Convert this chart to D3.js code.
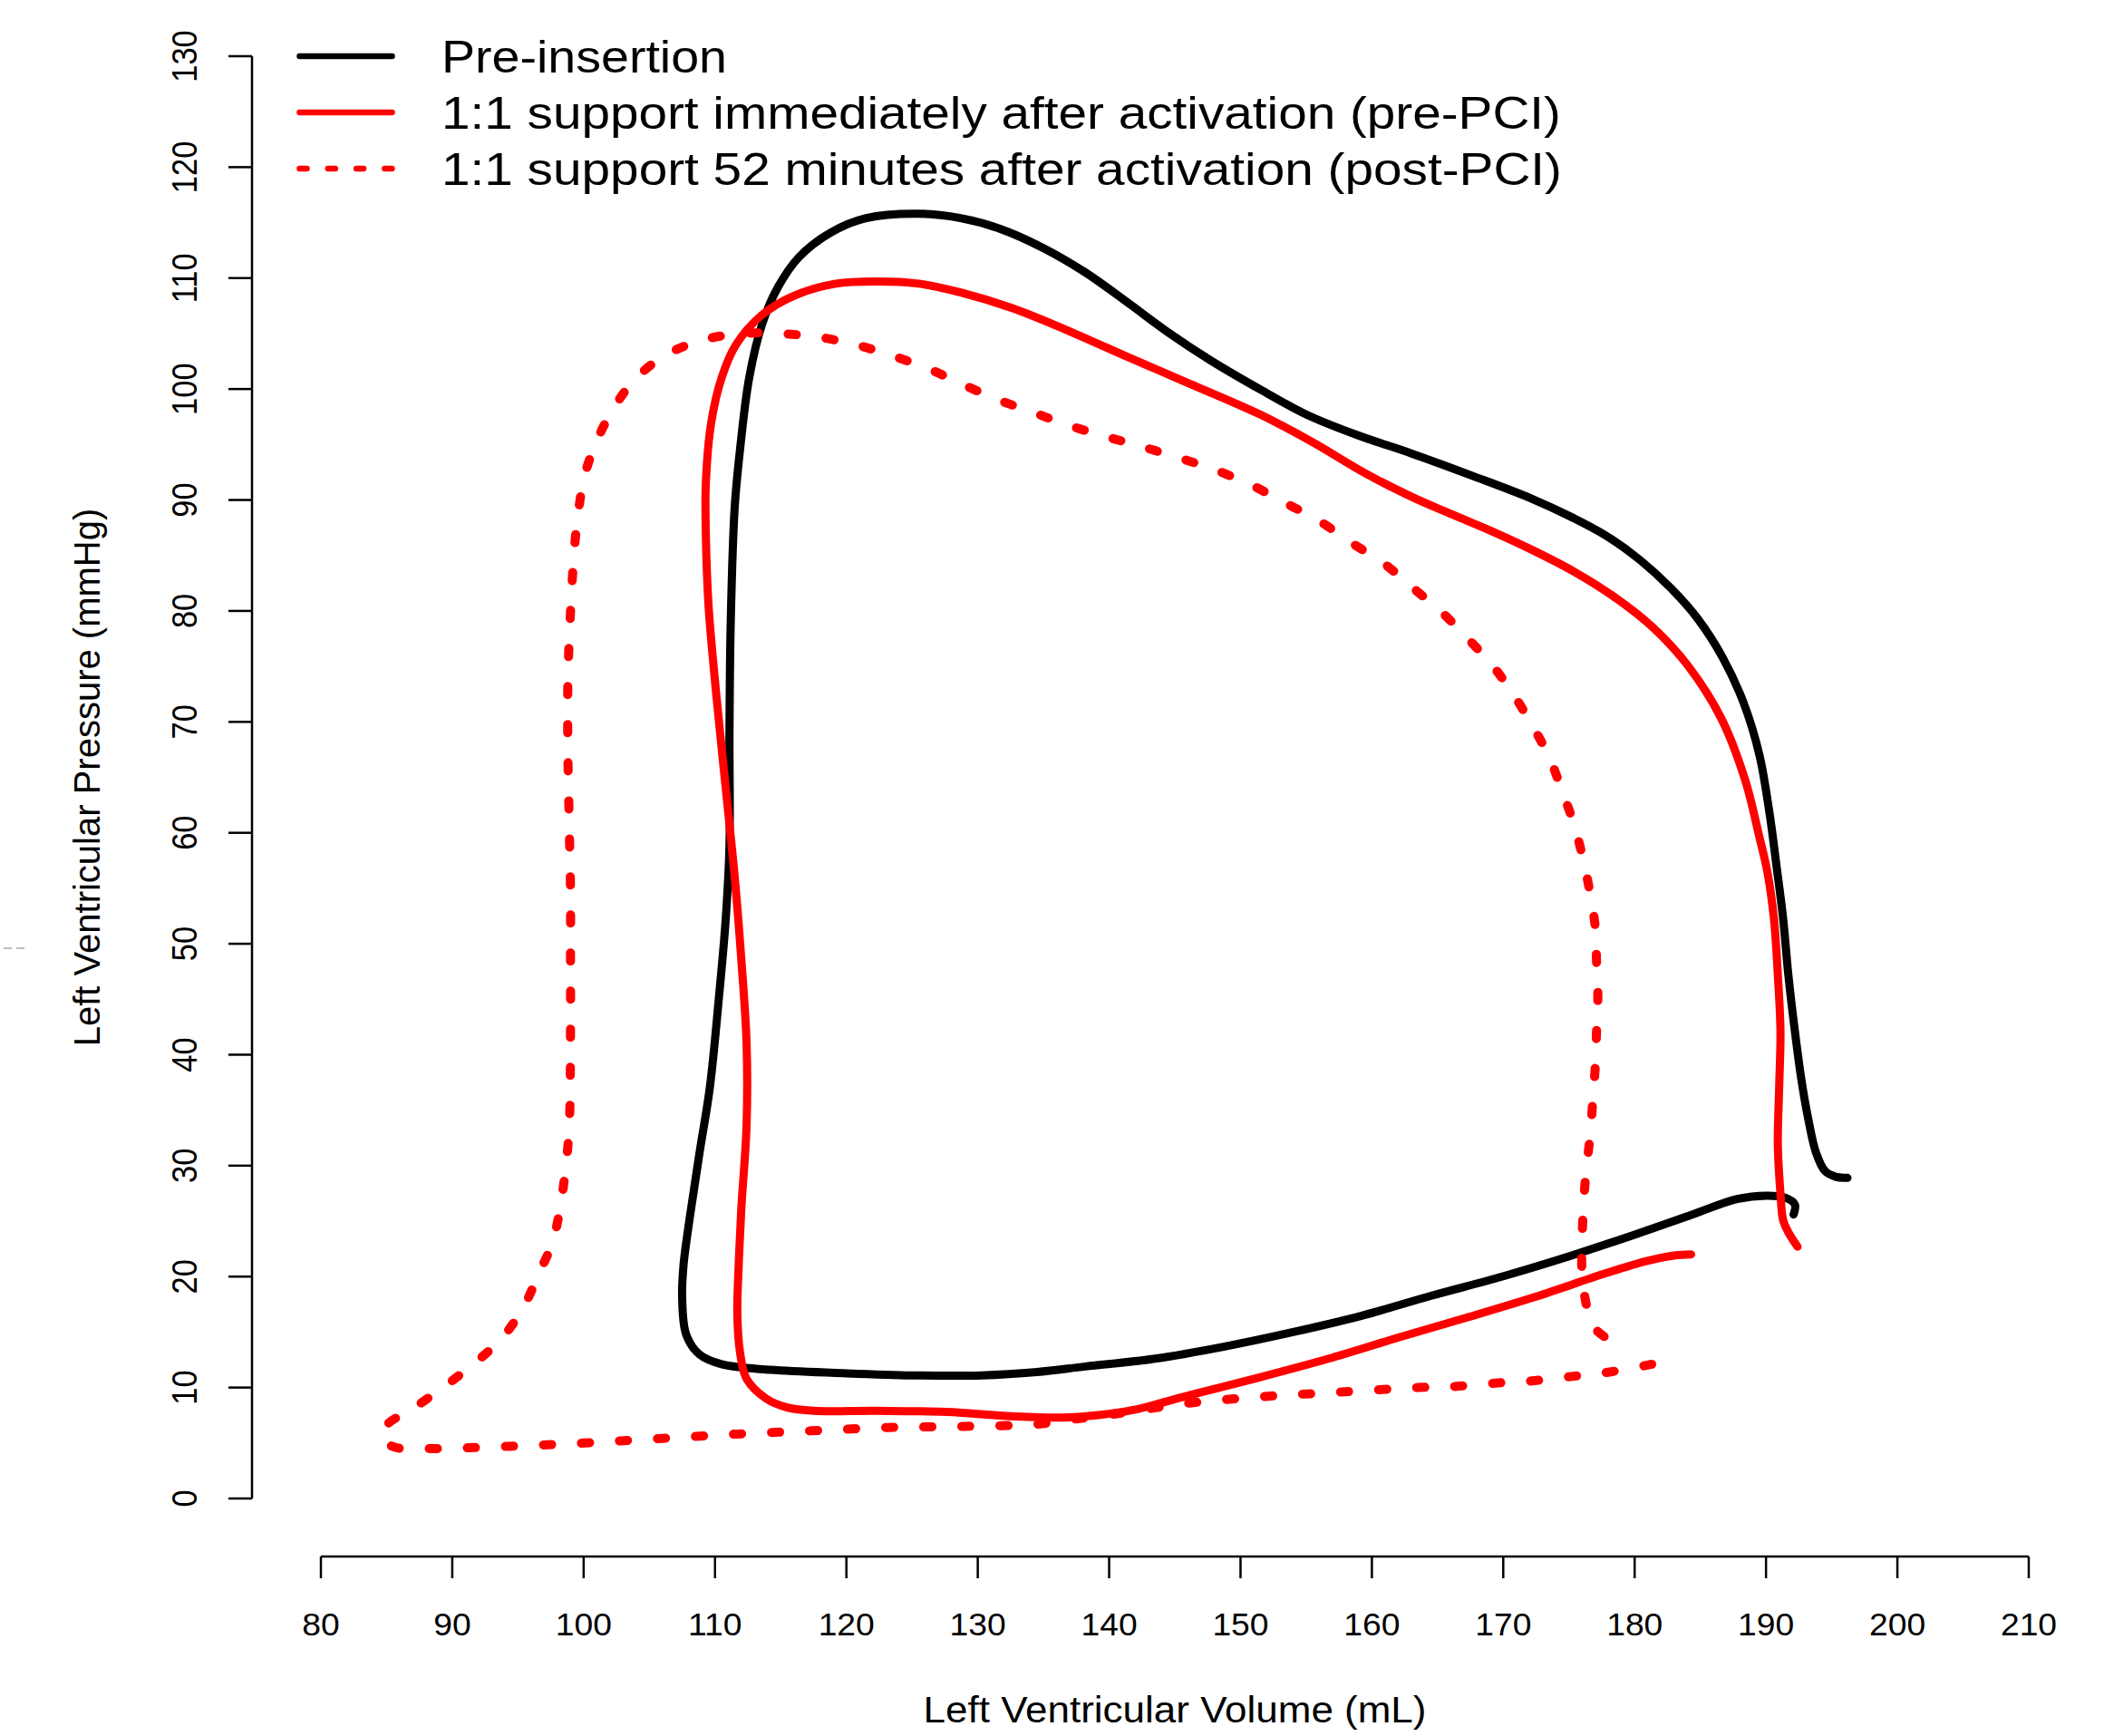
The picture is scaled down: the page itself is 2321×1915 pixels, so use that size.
<!DOCTYPE html>
<html>
<head>
<meta charset="utf-8">
<script src="https://cdn.jsdelivr.net/npm/d3@7"></script>
<style>
  body { margin: 0; background: #fff; }
  svg text { font-family: "Liberation Sans", Arial, sans-serif; fill: #000; }
</style>
</head>
<body>
<div id="pv_loop"></div>
<script>
// legend labels
var seriesNames = ["Pre-insertion",
  "1:1 support immediately after activation (pre-PCI)",
  "1:1 support 52 minutes after activation (post-PCI)"];

var xTicks = d3.range(80, 211, 10);
var yTicks = d3.range(0, 131, 10);

// Pre-insertion loop (volume mL, pressure mmHg)
var preVol = [196.2, 195.3, 194.5, 193.8, 193.2, 192.7, 192.2, 191.7, 191.3, 190.8, 190.3, 189.5, 188.3, 186.7, 184.8, 182.8, 180.4, 177.8, 175.3, 172.2, 167.6, 163.0, 159.0, 155.2, 151.6, 147.7, 144.5, 141.4, 138.2, 135.0, 131.8, 128.7, 125.5, 121.5, 118.8, 116.4, 114.8, 113.6, 112.6, 111.9, 111.5, 111.2, 111.1, 111.1, 110.8, 110.3, 109.6, 108.8, 108.1, 107.6, 107.5, 107.8, 108.8, 110.5, 114.2, 119.7, 125.0, 130.3, 134.5, 138.2, 143.5, 148.8, 154.0, 159.3, 164.6, 169.9, 175.2, 179.8, 184.4, 187.8, 190.1, 191.5, 192.2, 192.1];
var prePres = [28.9, 29.0, 29.5, 31.2, 34.3, 37.7, 42.1, 47.2, 52.3, 57.0, 61.5, 67.0, 71.7, 75.8, 79.3, 82.0, 84.6, 86.8, 88.4, 90.1, 92.2, 94.2, 95.8, 97.6, 99.9, 102.6, 105.1, 107.8, 110.5, 112.7, 114.4, 115.4, 115.8, 115.4, 114.1, 111.9, 109.2, 105.9, 101.0, 94.5, 89.4, 79.2, 69.0, 58.8, 52.0, 45.2, 37.0, 31.0, 25.5, 21.0, 18.0, 14.8, 13.0, 12.1, 11.6, 11.3, 11.1, 11.1, 11.4, 11.9, 12.6, 13.7, 15.0, 16.5, 18.3, 20.0, 21.9, 23.7, 25.6, 27.0, 27.3, 27.1, 26.5, 25.6];

// 1:1 support, pre-PCI
var prePciVol = [192.4, 191.7, 191.3, 191.1, 190.9, 191.0, 191.1, 190.9, 190.6, 190.1, 189.5, 188.4, 186.6, 184.1, 181.4, 178.4, 175.3, 172.2, 169.1, 166.1, 163.0, 159.5, 155.5, 151.5, 146.1, 141.4, 136.6, 132.6, 128.7, 125.5, 122.3, 119.2, 116.0, 113.6, 111.6, 110.5, 109.7, 109.3, 109.3, 109.5, 110.1, 110.8, 111.5, 112.0, 112.4, 112.4, 112.0, 111.8, 111.7, 111.9, 112.4, 113.9, 115.5, 117.5, 122.3, 127.6, 132.9, 136.5, 139.0, 141.9, 146.1, 151.4, 156.7, 162.0, 167.2, 172.5, 177.8, 180.9, 183.0, 184.3];
var prePciPres = [22.7, 24.0, 25.1, 27.5, 31.9, 37.0, 42.1, 47.2, 52.3, 56.5, 59.6, 64.8, 70.3, 75.0, 78.5, 81.3, 83.6, 85.5, 87.2, 88.7, 90.3, 92.4, 95.2, 97.7, 100.5, 102.9, 105.4, 107.3, 108.7, 109.5, 109.7, 109.5, 108.4, 106.7, 104.0, 101.0, 96.9, 91.5, 87.0, 80.6, 72.4, 64.2, 56.0, 48.6, 41.1, 33.6, 26.1, 21.0, 16.6, 13.2, 10.8, 9.0, 8.2, 7.9, 7.9, 7.8, 7.4, 7.3, 7.5, 8.0, 9.3, 10.9, 12.6, 14.5, 16.3, 18.2, 20.3, 21.4, 21.9, 22.0];

// 1:1 support, 52 minutes (post-PCI)
var postPciVol = [181.3, 178.1, 175.2, 172.2, 169.4, 166.3, 163.5, 157.7, 151.9, 146.1, 140.3, 137.0, 134.5, 129.0, 123.1, 117.3, 111.5, 105.7, 100.0, 94.2, 88.3, 85.7, 84.7, 85.0, 87.0, 89.4, 91.7, 93.8, 95.4, 96.6, 97.6, 98.2, 98.6, 98.9, 99.0, 99.0, 99.0, 98.9, 98.8, 98.8, 99.0, 99.2, 99.5, 100.1, 101.1, 102.4, 104.0, 106.3, 109.0, 112.0, 114.8, 117.8, 120.7, 123.5, 126.3, 128.7, 131.4, 134.2, 137.0, 139.8, 142.5, 145.3, 148.1, 150.9, 153.3, 156.0, 158.5, 161.0, 163.1, 165.3, 167.3, 169.1, 170.7, 172.2, 173.5, 174.5, 175.4, 176.1, 176.6, 177.0, 177.1, 177.2, 177.1, 177.0, 176.8, 176.6, 176.3, 176.1, 176.0, 176.0, 176.4, 177.0, 178.2];
var postPciPres = [12.1, 11.4, 11.0, 10.6, 10.4, 10.1, 10.0, 9.6, 9.2, 8.6, 7.6, 7.1, 6.7, 6.5, 6.4, 6.1, 5.8, 5.4, 5.0, 4.7, 4.5, 4.6, 5.3, 6.6, 8.1, 10.1, 12.2, 14.5, 17.2, 20.3, 23.0, 26.1, 29.5, 33.5, 42.1, 48.6, 54.7, 60.9, 67.3, 73.8, 79.9, 84.0, 88.0, 92.3, 95.6, 98.5, 101.0, 103.1, 104.4, 105.0, 105.0, 104.7, 104.0, 103.0, 101.8, 100.5, 99.1, 97.9, 96.7, 95.7, 94.8, 93.8, 92.7, 91.3, 89.8, 88.1, 86.1, 84.2, 82.1, 79.9, 77.5, 75.2, 72.6, 69.7, 66.8, 63.7, 60.7, 57.5, 54.6, 51.5, 48.4, 45.3, 42.1, 38.9, 35.6, 32.6, 29.4, 26.3, 23.0, 20.2, 17.1, 15.3, 14.2];

// measured widths of the legend strings in the original (px)
var legendWidths = [315, 1235, 1236];

var width = 2321, height = 1915;

var svg = d3.select("#pv_loop")
  .append("svg")
    .attr("width", width)
    .attr("height", height)
    .style("background", "#fff");

var x = d3.scaleLinear().domain([80, 210]).range([354, 2238]);
var y = d3.scaleLinear().domain([0, 130]).range([1653, 62]);

// X AXIS (detached below the plot, R style)
var xAxisY = 1717;
svg.append("line")
  .attr("x1", x(80)).attr("x2", x(210))
  .attr("y1", xAxisY).attr("y2", xAxisY)
  .attr("stroke", "#000").attr("stroke-width", 2.5);
svg.selectAll(".xtick")
  .data(xTicks)
  .enter()
  .append("line")
    .attr("x1", function(d) { return x(d); })
    .attr("x2", function(d) { return x(d); })
    .attr("y1", xAxisY).attr("y2", xAxisY + 24)
    .attr("stroke", "#000").attr("stroke-width", 2.5);
svg.selectAll(".xlab")
  .data(xTicks)
  .enter()
  .append("text")
    .attr("transform", function(d) { return "translate(" + x(d) + ",1804) scale(1.08,1)"; })
    .attr("text-anchor", "middle")
    .attr("font-size", "34.5px")
    .text(function(d) { return d; });

// Y AXIS
var yAxisX = 278;
svg.append("line")
  .attr("x1", yAxisX).attr("x2", yAxisX)
  .attr("y1", y(0)).attr("y2", y(130))
  .attr("stroke", "#000").attr("stroke-width", 2.5);
svg.selectAll(".ytick")
  .data(yTicks)
  .enter()
  .append("line")
    .attr("x1", yAxisX - 26).attr("x2", yAxisX)
    .attr("y1", function(d) { return y(d); })
    .attr("y2", function(d) { return y(d); })
    .attr("stroke", "#000").attr("stroke-width", 2.5);
svg.selectAll(".ylab")
  .data(yTicks)
  .enter()
  .append("text")
    .attr("transform", function(d) { return "translate(217," + y(d) + ") rotate(-90) scale(1,1.12)"; })
    .attr("text-anchor", "middle")
    .attr("font-size", "34.5px")
    .text(function(d) { return d; });

// axis titles
svg.append("text")
  .attr("transform", "translate(" + ((x(80) + x(210)) / 2) + ",1900) scale(1.1,1)")
  .attr("text-anchor", "middle")
  .attr("font-size", "40px")
  .text("Left Ventricular Volume (mL)");
svg.append("text")
  .attr("transform", "translate(110," + ((y(0) + y(130)) / 2) + ") rotate(-90)")
  .attr("text-anchor", "middle")
  .attr("font-size", "40px")
  .text("Left Ventricular Pressure (mmHg)");

// small grey mark at the left edge of the original
svg.append("path")
  .attr("d", "M4,1046 L13,1046 M18,1046 L27,1046")
  .attr("stroke", "#aaa").attr("stroke-width", 1.5);

// LOOPS
var line = d3.line()
  .x(function(d) { return x(d[0]); })
  .y(function(d) { return y(d[1]); })
  .curve(d3.curveCatmullRom.alpha(0.5));

var loops = [
  {vol: preVol, pres: prePres, color: "#000", dash: null},
  {vol: prePciVol, pres: prePciPres, color: "#ff0000", dash: null},
  {vol: postPciVol, pres: postPciPres, color: "#ff0000", dash: "9 33"}
];

svg.selectAll(".loop")
  .data(loops)
  .enter()
  .append("path")
    .attr("d", function(d) { return line(d3.zip(d.vol, d.pres)); })
    .attr("fill", "none")
    .attr("stroke", function(d) { return d.color; })
    .attr("stroke-width", function(d) { return d.dash ? 10 : 9; })
    .attr("stroke-linecap", "round")
    .attr("stroke-linejoin", "round")
    .attr("stroke-dasharray", function(d) { return d.dash; });

// LEGEND
var legend = svg.append("g").attr("class", "legend");
var legendRows = legend.selectAll("g")
  .data(seriesNames)
  .enter()
  .append("g")
    .attr("transform", function(d, i) { return "translate(0," + (62 + i * 62) + ")"; });

legendRows.append("line")
  .attr("x1", 330.5).attr("x2", 432.5)
  .attr("y1", 0).attr("y2", 0)
  .attr("stroke", function(d, i) { return loops[i].color; })
  .attr("stroke-width", 6.5)
  .attr("stroke-linecap", "round")
  .attr("stroke-dasharray", function(d, i) { return loops[i].dash ? "8 23.3" : null; });

legendRows.append("text")
  .attr("x", 487)
  .attr("y", 18)
  .attr("font-size", "50px")
  .attr("textLength", function(d, i) { return legendWidths[i]; })
  .attr("lengthAdjust", "spacingAndGlyphs")
  .text(function(d) { return d; });
</script>
</body>
</html>
